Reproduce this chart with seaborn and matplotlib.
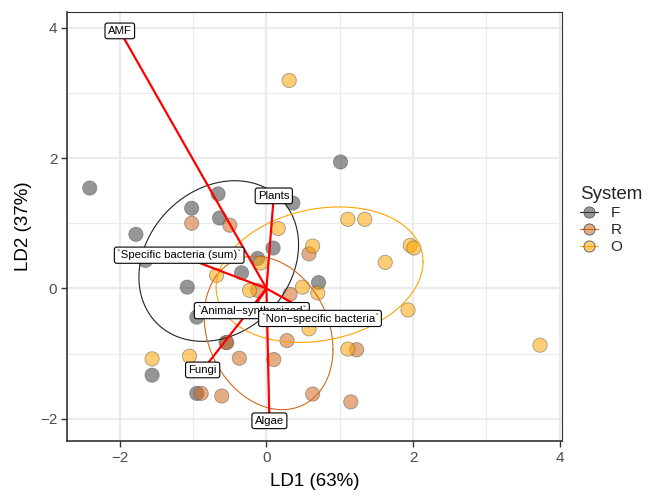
import numpy as np
import pandas as pd
import matplotlib
matplotlib.use("Agg")
import matplotlib.pyplot as plt
import seaborn as sns
from matplotlib.lines import Line2D

# ---- data ----
f_ld1 = [-2.41, -1.78, -1.65, -1.08, -1.02, -0.66, -0.64, -0.34, 0.36, 1.01, 0.09, -0.12, 0.71, -1.56, -0.95, -0.55, -0.95]
f_ld2 = [1.54, 0.83, 0.43, 0.02, 1.23, 1.45, 1.08, 0.24, 1.31, 1.94, 0.62, 0.46, 0.09, -1.33, -1.61, -0.83, -0.44]
r_ld1 = [-1.02, -0.50, 0.58, 0.32, -0.54, -0.37, 0.10, -0.89, -0.61, 0.28, 1.23, 0.63, 1.15, -0.12]
r_ld2 = [1.00, 0.97, 0.53, -0.09, -0.83, -1.07, -1.09, -1.61, -1.65, -0.80, -0.94, -1.62, -1.74, -0.03]
o_ld1 = [0.31, 0.16, 0.63, 1.11, 1.34, 1.96, 2.01, 1.62, 0.70, 0.49, -0.08, -0.23, -0.68, 0.58, 1.93, 1.11, 3.73, -1.56, -1.05]
o_ld2 = [3.19, 0.92, 0.65, 1.06, 1.06, 0.66, 0.62, 0.40, -0.07, 0.02, 0.39, -0.03, 0.20, -0.62, -0.33, -0.93, -0.87, -1.08, -1.04]

systems = ["F", "R", "O"]
vec_names = ["AMF", "Plants", "`Specific bacteria (sum)`", "`Animal\u2212synthesized`",
             "`Non\u2212specific bacteria`", "Fungi", "Algae"]
vec_ld1 = [-2.00, 0.10, -1.19, -0.20, 0.73, -0.87, 0.04]
vec_ld2 = [3.95, 1.42, 0.51, -0.34, -0.46, -1.25, -2.03]

x_ticks = [-2, 0, 2, 4]
y_ticks = [-2, 0, 2, 4]
ellipse_level = 0.6

df = pd.DataFrame({
    "LD1": f_ld1 + r_ld1 + o_ld1,
    "LD2": f_ld2 + r_ld2 + o_ld2,
    "System": ["F"] * len(f_ld1) + ["R"] * len(r_ld1) + ["O"] * len(o_ld1),
})

fill = {"F": "#404040", "R": "#D2691E", "O": "#FFA500"}
line_col = {"F": "#222222", "R": "#D2691E", "O": "#FFA500"}


def cov_trob(x, nu=5, maxit=50, tol=1e-4):
    n, p = x.shape
    loc = x.mean(axis=0)
    w = np.ones(n)
    for _ in range(maxit):
        w0 = w
        X = x - loc
        sw = np.sqrt(w / w.sum())
        _, d, vt = np.linalg.svd(sw[:, None] * X, full_matrices=False)
        wX = X @ vt.T @ np.diag(1 / d)
        Q = (wX ** 2).sum(axis=1)
        w = (nu + p) / (nu + Q)
        loc = (w[:, None] * x).sum(axis=0) / w.sum()
        if np.all(np.abs(w - w0) < tol):
            break
    X = x - loc
    cov = (np.sqrt(w)[:, None] * X).T @ (np.sqrt(w)[:, None] * X) / n
    return loc, cov


def ellipse_path(x, level, segments=200):
    n = len(x)
    loc, cov = cov_trob(x)
    dfd = n - 1
    qf = (dfd / 2) * ((1 - level) ** (-2 / dfd) - 1)
    radius = np.sqrt(2 * qf)
    t = np.linspace(0, 2 * np.pi, segments + 1)
    unit = np.column_stack([np.cos(t), np.sin(t)])
    chol = np.linalg.cholesky(cov).T
    return loc + radius * unit @ chol


sns.set_theme(style="white")
plt.rcParams["font.family"] = ["Liberation Sans", "DejaVu Sans"]

fig = plt.figure(figsize=(6.5, 4.96), dpi=100)
ax = fig.add_axes([67 / 650, 1 - 441 / 496, (562 - 67) / 650, (441 - 12) / 496])

ax.set_xlim(-2.72, 4.03)
ax.set_ylim(-2.34, 4.24)

ax.set_xticks(x_ticks)
ax.set_yticks(y_ticks)
ax.set_xticks([-1, 1, 3], minor=True)
ax.set_yticks([-1, 1, 3], minor=True)
ax.grid(True, which="major", color="#EBEBEB", lw=1.6, zorder=0)
ax.grid(True, which="minor", color="#EBEBEB", lw=0.8, zorder=0)
ax.set_axisbelow(True)

sns.scatterplot(data=df, x="LD1", y="LD2", hue="System", hue_order=systems,
                palette=fill, s=105, alpha=0.55, edgecolor="#555555",
                linewidth=0.6, legend=False, ax=ax, zorder=2)

for sy in systems:
    xy = df[df.System == sy][["LD1", "LD2"]].to_numpy()
    pth = ellipse_path(xy, ellipse_level)
    ax.plot(pth[:, 0], pth[:, 1], color=line_col[sy], lw=0.8, zorder=3)

for n, vx, vy in zip(vec_names, vec_ld1, vec_ld2):
    ax.plot([0, vx], [0, vy], color="red", lw=1.6, zorder=4, solid_capstyle="butt")
for n, vx, vy in zip(vec_names, vec_ld1, vec_ld2):
    ax.text(vx, vy, n, ha="center", va="center", fontsize=8.2, color="black", zorder=5,
            bbox=dict(boxstyle="round,pad=0.25,rounding_size=0.2", fc="white", ec="black", lw=0.8))

for side in ["top", "right", "left", "bottom"]:
    ax.spines[side].set_color("#333333")
    ax.spines[side].set_linewidth(0.8)
for side in ["left", "bottom"]:
    ax.spines[side].set_linewidth(1.2)

ax.tick_params(axis="both", which="major", length=4, width=1.0, color="#333333",
               labelsize=11, labelcolor="#4D4D4D", pad=3, direction="out",
               bottom=True, left=True)
ax.tick_params(axis="both", which="minor", length=0)
ax.set_xticklabels([f"{t}".replace("-", "\u2212") for t in x_ticks])
ax.set_yticklabels([f"{t}".replace("-", "\u2212") for t in y_ticks])

ax.set_xlabel("LD1 (63%)", fontsize=13.5, color="black", labelpad=6)
ax.set_ylabel("LD2 (37%)", fontsize=13.5, color="black", labelpad=6)

handles = [Line2D([0], [0], color=line_col[s], lw=0.8, marker="o", markersize=8,
                  markerfacecolor=matplotlib.colors.to_rgba(fill[s], 0.55),
                  markeredgecolor="#555555", markeredgewidth=0.6) for s in systems]
leg = fig.legend(handles, systems, title="System", loc="upper left",
                 bbox_to_anchor=(574 / 650, 1 - 180 / 496), frameon=False,
                 fontsize=11, title_fontsize=13.5, handlelength=1.2,
                 handletextpad=0.8, labelspacing=0.2, borderaxespad=0)
leg._legend_box.align = "left"

fig.savefig("out.png", dpi=100)
